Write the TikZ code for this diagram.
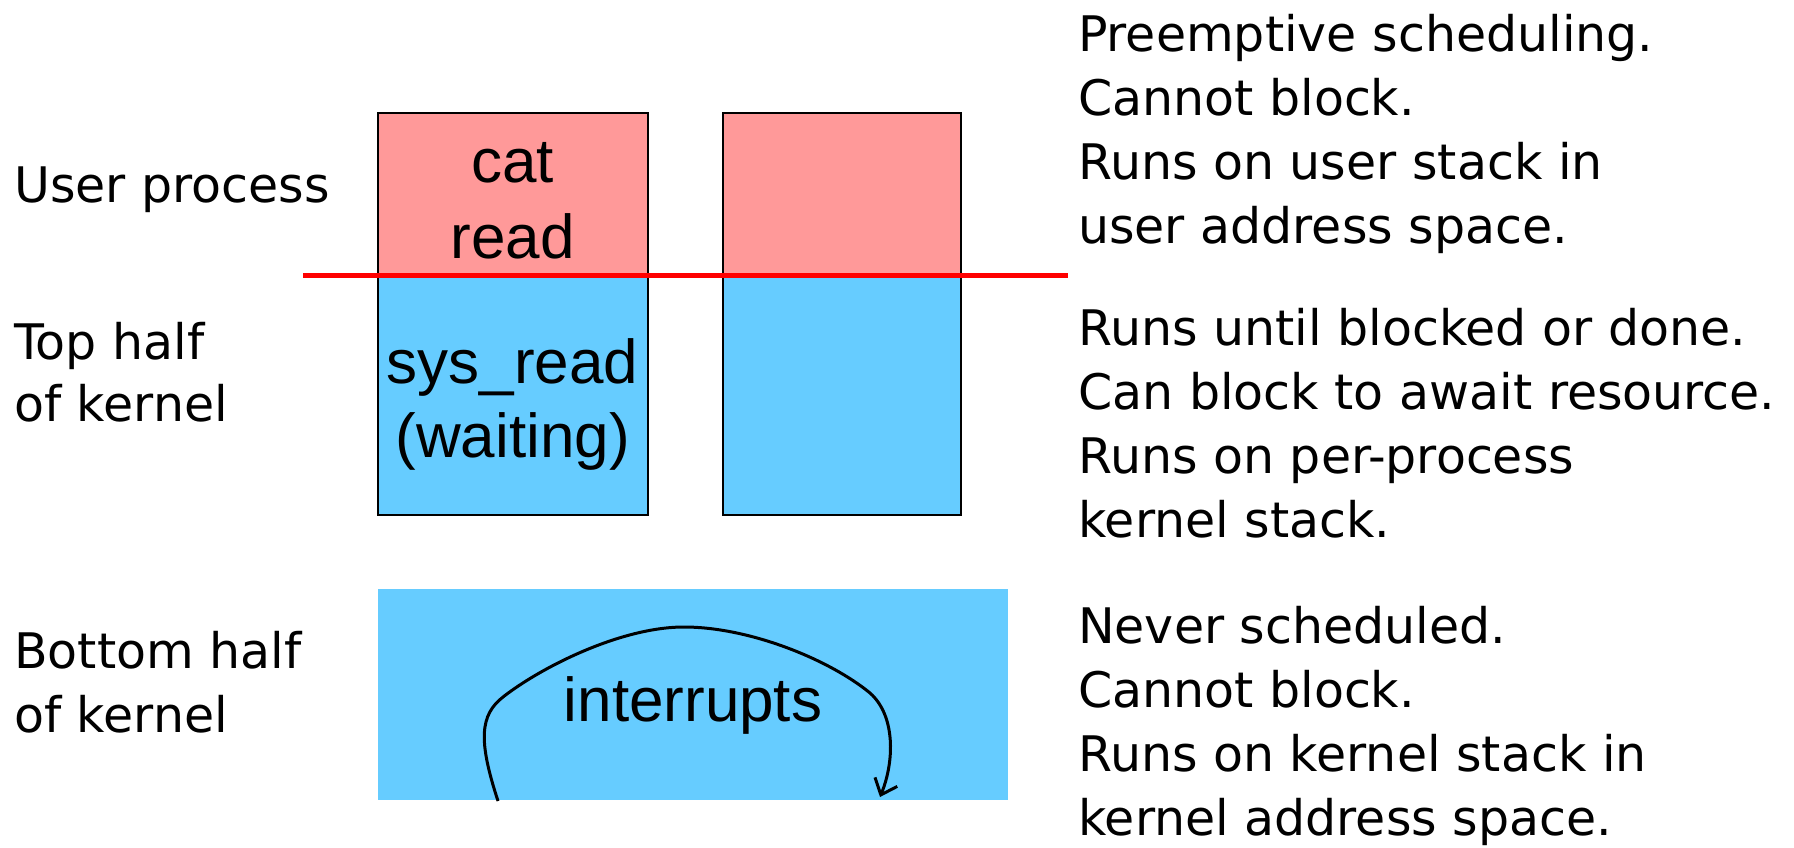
\documentclass[tikz,border=0pt]{standalone}
\usepackage{fontspec}
\setmainfont{DejaVu Sans}
\newfontfamily\boxfont{Liberation Sans}
\usetikzlibrary{arrows.meta}
\definecolor{userpink}{HTML}{FF9999}
\definecolor{kernblue}{HTML}{66CCFF}
\definecolor{splitred}{HTML}{FF0000}
\begin{document}
\begin{tikzpicture}[x=1pt,y=-1pt,
  lbl/.style={anchor=base west, inner sep=0pt, font=\fontsize{49}{64}\selectfont},
  boxtxt/.style={anchor=base, inner sep=0pt, font=\boxfont\fontsize{62}{70}\selectfont},
  fillbox/.style={rectangle, inner sep=0pt, outer sep=0pt, anchor=north west},
  pinkbox/.style={fillbox, fill=userpink},
  bluebox/.style={fillbox, fill=kernblue},
  frame/.style={fillbox, draw=black, line width=2.2pt},
  splitline/.style={draw=splitred, line width=5pt},
  looparrow/.style={draw=black, line width=3pt, -{Straight Barb[length=14pt,width=24pt,line width=3pt]}}
]
\useasboundingbox (0,0) rectangle (1794,847);

% stacks
\node[pinkbox, minimum width=270, minimum height=162.5] (p1) at (377.6,113.3) {};
\node[bluebox, minimum width=270, minimum height=239] (b1) at (377.6,275.8) {};
\node[frame, minimum width=270, minimum height=401.5] (f1) at (377.6,113.3) {};
\node[pinkbox, minimum width=238, minimum height=162.5] (p2) at (723,113.3) {};
\node[bluebox, minimum width=238, minimum height=239] (b2) at (723,275.8) {};
\node[frame, minimum width=238, minimum height=401.5] (f2) at (723,113.3) {};
\node[bluebox, minimum width=630.4, minimum height=211] (b3) at (377.6,589) {};

% red boundary
\coordinate (rl) at (303,275.8);
\coordinate (rr) at (1067.5,275.8);
\draw[splitline] (rl) -- (rr);

% box texts
\node[boxtxt] (cat) at (512.6,182) {cat};
\node[boxtxt] (rd) at (512.6,258) {read};
\node[boxtxt] (sr) at (512.6,383) {sys\_read};
\node[boxtxt] (wt) at (512.6,457) {(waiting)};
\node[boxtxt] (intr) at (693,721.7) {interrupts};

% interrupt loop
\coordinate (is) at (498,801);
\coordinate (i1) at (503,697);
\coordinate (it) at (684,627);
\coordinate (i2) at (870,693);
\coordinate (ie) at (880,797);
\draw[looparrow] (is) .. controls (478,740) and (480,715) .. (i1)
  .. controls (540,668) and (620,627) .. (it)
  .. controls (750,627) and (830,660) .. (i2)
  .. controls (895,715) and (895,760) .. (ie);

% left labels
\node[lbl] (l1) at (14,202.5) {User process};
\node[lbl] (l2) at (14,359) {Top half};
\node[lbl] (l3) at (14,421) {of kernel};
\node[lbl] (l4) at (14,668) {Bottom half};
\node[lbl] (l5) at (14,732) {of kernel};

% right descriptions
\node[lbl] (r1) at (1078,51.5) {Preemptive scheduling.};
\node[lbl] (r2) at (1078,115.5) {Cannot block.};
\node[lbl] (r3) at (1078,179.5) {Runs on user stack in};
\node[lbl] (r4) at (1078,243.5) {user address space.};
\node[lbl] (r5) at (1078,345.5) {Runs until blocked or done.};
\node[lbl] (r6) at (1078,409.5) {Can block to await resource.};
\node[lbl] (r7) at (1078,473.5) {Runs on per-process};
\node[lbl] (r8) at (1078,537.5) {kernel stack.};
\node[lbl] (r9) at (1078,643) {Never scheduled.};
\node[lbl] (r10) at (1078,707) {Cannot block.};
\node[lbl] (r11) at (1078,771) {Runs on kernel stack in};
\node[lbl] (r12) at (1078,835) {kernel address space.};
\end{tikzpicture}
\end{document}
